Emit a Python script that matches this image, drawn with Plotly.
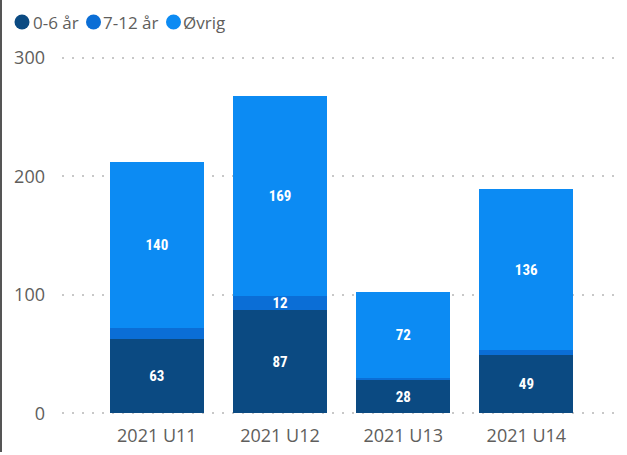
import plotly.graph_objects as go

categories = ["2021 U11", "2021 U12", "2021 U13", "2021 U14"]
series_names = ["0-6 år", "7-12 år", "Øvrig"]
vals_0_6 = [63, 87, 28, 49]
vals_7_12 = [9, 12, 2, 4]
vals_ovrig = [140, 169, 72, 136]
labels_7_12 = ["", "12", "", ""]
colors = ["#0B4A82", "#0B6ED6", "#0C8BF3"]
y_ticks = [0, 100, 200, 300]

W, H = 627, 455
ML, MR, MT, MB = 62, 7, 56, 40
y_lo, y_hi = -1.5, 301.5


def px_x(px):
    return (px - ML) / (W - ML - MR)


def px_y(py):
    return (H - MB - py) / (H - MT - MB)


fig = go.Figure()
series = [vals_0_6, vals_7_12, vals_ovrig]
texts = [[str(v) for v in vals_0_6], labels_7_12, [str(v) for v in vals_ovrig]]
label_font = dict(color="white", size=15, weight="bold",
                  family="Roboto Condensed, DejaVu Sans Condensed, Liberation Sans Narrow, Roboto")
for name, vals, txt, col in zip(series_names, series, texts, colors):
    fig.add_trace(go.Bar(
        x=categories, y=vals, name=name, marker=dict(color=col, line=dict(width=0)),
        text=txt, textposition="inside", insidetextanchor="middle", textangle=0,
        textfont=label_font, showlegend=False, hoverinfo="skip"))

# custom compact legend (circle + label), positioned in pixels
legend_circle_x = [22, 93.5, 173.5]
legend_text_x = [31, 101, 181]
legend_y = 22
shapes = []
annotations = []
for name, col, cx, tx in zip(series_names, colors, legend_circle_x, legend_text_x):
    shapes.append(dict(type="circle", xref="paper", yref="paper",
                       xsizemode="pixel", ysizemode="pixel",
                       xanchor=px_x(cx), yanchor=px_y(legend_y),
                       x0=-7.5, x1=7.5, y0=-7.5, y1=7.5,
                       fillcolor=col, line=dict(width=0)))
    annotations.append(dict(text=name, xref="paper", yref="paper",
                            x=px_x(tx), y=px_y(legend_y), xanchor="left", yanchor="middle",
                            showarrow=False, font=dict(size=17, color="#605E5C")))

# left card border
shapes.append(dict(type="line", xref="paper", yref="paper", x0=px_x(1), x1=px_x(1),
                   y0=px_y(452), y1=px_y(0), line=dict(color="#555555", width=2)))

fig.update_layout(
    barmode="stack", bargap=0.236,
    width=W, height=H,
    margin=dict(l=ML, r=MR, t=MT, b=MB, autoexpand=False),
    paper_bgcolor="white", plot_bgcolor="white",
    uniformtext=dict(minsize=15, mode="show"),
    font=dict(family="Open Sans", color="#605E5C"),
    showlegend=False,
    xaxis=dict(range=[-0.77, 3.76], showgrid=False, zeroline=False, showline=False,
               automargin=False, ticks="", ticklabelstandoff=8,
               tickfont=dict(size=18, color="#605E5C")),
    yaxis=dict(range=[y_lo, y_hi], tickvals=y_ticks, showgrid=True, gridcolor="#C8C8C8",
               griddash="2px,8px", gridwidth=1.5, zeroline=False, showline=False,
               automargin=False, ticks="", ticklabelstandoff=16,
               tickfont=dict(size=18, color="#605E5C")),
    shapes=shapes,
    annotations=annotations,
)

fig.write_html("out.html", config={"displayModeBar": False},
               post_script="document.body.style.margin='0';")
